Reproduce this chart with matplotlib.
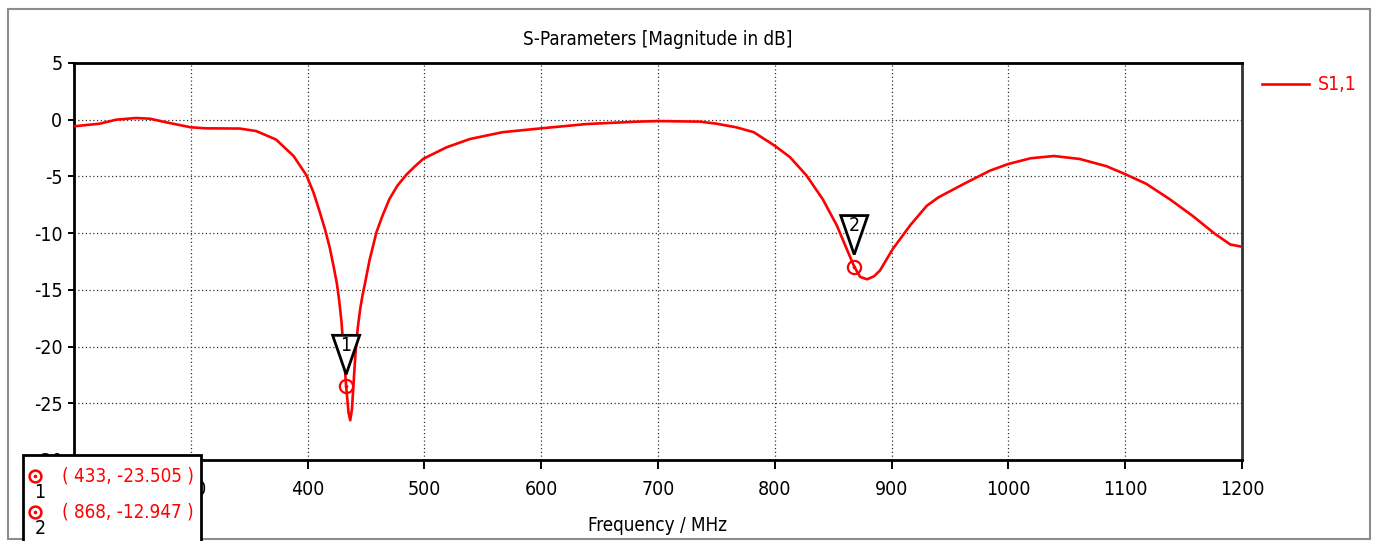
import matplotlib
matplotlib.use('Agg')
import matplotlib.pyplot as plt
from matplotlib.patches import Rectangle, Polygon
from matplotlib.lines import Line2D
from matplotlib.transforms import Affine2D, ScaledTranslation

# ---------------- data ----------------
freq_mhz = [200, 222, 236, 253, 265, 279, 300, 313, 342, 356, 373, 388, 399, 405,
            410, 415, 419, 422, 425, 427, 429, 431, 433, 435, 436.5, 438, 439.5,
            441, 443, 445, 447, 449, 453, 459, 464, 470, 477, 485, 492, 499, 519,
            539, 567, 600, 639, 682, 700, 736, 750, 767, 782, 800, 813, 827, 841,
            853, 862, 868, 873, 879, 885, 890, 901, 916, 930, 940, 962, 984, 1000,
            1019, 1039, 1061, 1084, 1100, 1118, 1138, 1158, 1176, 1190, 1200]
s11_db = [-0.58, -0.35, 0.0, 0.15, 0.09, -0.23, -0.67, -0.76, -0.78, -1.0, -1.75,
          -3.2, -4.9, -6.4, -8.0, -9.7, -11.3, -12.8, -14.4, -15.9, -17.8, -20.6,
          -23.5, -25.8, -26.5, -25.5, -23.0, -20.6, -18.3, -16.7, -15.5, -14.5,
          -12.4, -9.9, -8.5, -7.0, -5.8, -4.8, -4.1, -3.45, -2.43, -1.7, -1.1,
          -0.76, -0.38, -0.17, -0.12, -0.17, -0.35, -0.67, -1.1, -2.3, -3.3, -4.9,
          -7.0, -9.3, -11.5, -12.95, -13.85, -14.07, -13.8, -13.3, -11.4, -9.3,
          -7.6, -6.85, -5.65, -4.5, -3.9, -3.4, -3.2, -3.46, -4.1, -4.8, -5.65,
          -7.0, -8.5, -10.0, -11.0, -11.2]

marker_ids = ['1', '2']
marker_freq = [433, 868]
marker_db = [-23.505, -12.947]

x_ticks = [200, 300, 400, 500, 600, 700, 800, 900, 1000, 1100, 1200]
y_ticks = [5, 0, -5, -10, -15, -20, -25, -30]

title_text = 'S-Parameters [Magnitude in dB]'
xlabel_text = 'Frequency / MHz'
series_name = 'S1,1'

# ---------------- figure ----------------
W, H = 1375, 541
FONT = 'DejaVu Sans'
plt.rcParams['font.family'] = [FONT]
plt.rcParams['font.stretch'] = 'condensed'
FS = 14
FS_T = 13.5

fig = plt.figure(figsize=(W / 100, H / 100), dpi=100)
fig.patch.set_facecolor('white')


def fx(px):
    return px / W


def fy(py):
    return 1 - py / H


px_trans = Affine2D().scale(1, -1).translate(0, H)  # pixel coords, origin top-left

# outer window frame
fig.add_artist(Rectangle((8, 9), 1362, 530, transform=px_trans, fill=False,
                         edgecolor='#8c8c8c', linewidth=1.5, zorder=0))

ax = fig.add_axes([fx(74), fy(460), fx(1242) - fx(74), fy(63) - fy(460)])
ax.set_xlim(200, 1200)
ax.set_ylim(-30, 5)
ax.set_xticks(x_ticks)
ax.set_yticks(y_ticks)
ax.set_xticklabels([str(t) for t in x_ticks])
ax.set_yticklabels([str(t) for t in y_ticks])
ax.tick_params(axis='x', direction='out', length=6.5, width=1.4, pad=8, labelsize=FS)
ax.tick_params(axis='y', direction='out', length=4.3, width=1.4, pad=4, labelsize=FS)
ax.grid(True, linestyle=(0, (1, 2.0)), color='#333333', linewidth=0.9)
for side in ['left', 'bottom', 'top']:
    ax.spines[side].set_linewidth(2)
    ax.spines[side].set_color('black')
ax.spines['right'].set_linewidth(2)
ax.spines['right'].set_color('#333333')

line, = ax.plot(freq_mhz, s11_db, color='#ff0000', linewidth=1.9, zorder=3,
                label=series_name, solid_joinstyle='round')

ax.set_title(title_text, fontsize=FS_T, pad=13)
ax.set_xlabel(xlabel_text, fontsize=FS_T, labelpad=12)

# markers
for mid, f, v in zip(marker_ids, marker_freq, marker_db):
    off = Affine2D() + ScaledTranslation(f, v, ax.transData)
    tri = Polygon([(0, 12), (-13.5, 51), (13.5, 51)], closed=True, fill=True,
                  facecolor='white', edgecolor='black', linewidth=2.0,
                  transform=off, zorder=5, clip_on=False)
    ax.add_patch(tri)
    ax.text(0, 41, mid, transform=off, ha='center', va='center', fontsize=FS,
            color='black', zorder=6)
    ax.plot([f], [v], 'o', mfc='none', mec='red', ms=9.5, mew=1.6, zorder=6,
            clip_on=False)
    ax.plot([f], [v], 'o', color='red', ms=1.6, zorder=6, clip_on=False)

# legend
ax.legend(handles=[line], loc='center left', bbox_to_anchor=(fx(1262), fy(85)),
          bbox_transform=fig.transFigure, frameon=False, fontsize=FS,
          handlelength=2.4, handletextpad=0.45, borderpad=0, borderaxespad=0,
          labelcolor='#ff0000')

# marker readout box
fig.add_artist(Rectangle((22.5, 454.5), 178.5, 90, transform=px_trans,
                         facecolor='white', edgecolor='black', linewidth=2,
                         zorder=10))
rows_y = [476, 512]
for mid, f, v, yy in zip(marker_ids, marker_freq, marker_db, rows_y):
    fig.add_artist(Line2D([35], [yy], transform=px_trans, marker='o', mfc='none',
                          mec='red', ms=8.5, mew=1.8, linestyle='none', zorder=11))
    fig.add_artist(Line2D([35], [yy], transform=px_trans, marker='o', color='red',
                          ms=1.6, linestyle='none', zorder=11))
    fig.text(fx(40), fy(yy + 16), mid, ha='center', va='center', fontsize=FS,
             color='black', zorder=11)
    fig.text(fx(62), fy(yy), '( %d, %.3f )' % (f, v), ha='left', va='center',
             fontsize=FS_T, color='#ff0000', zorder=11)

fig.savefig('out.png', dpi=100, facecolor='white')
